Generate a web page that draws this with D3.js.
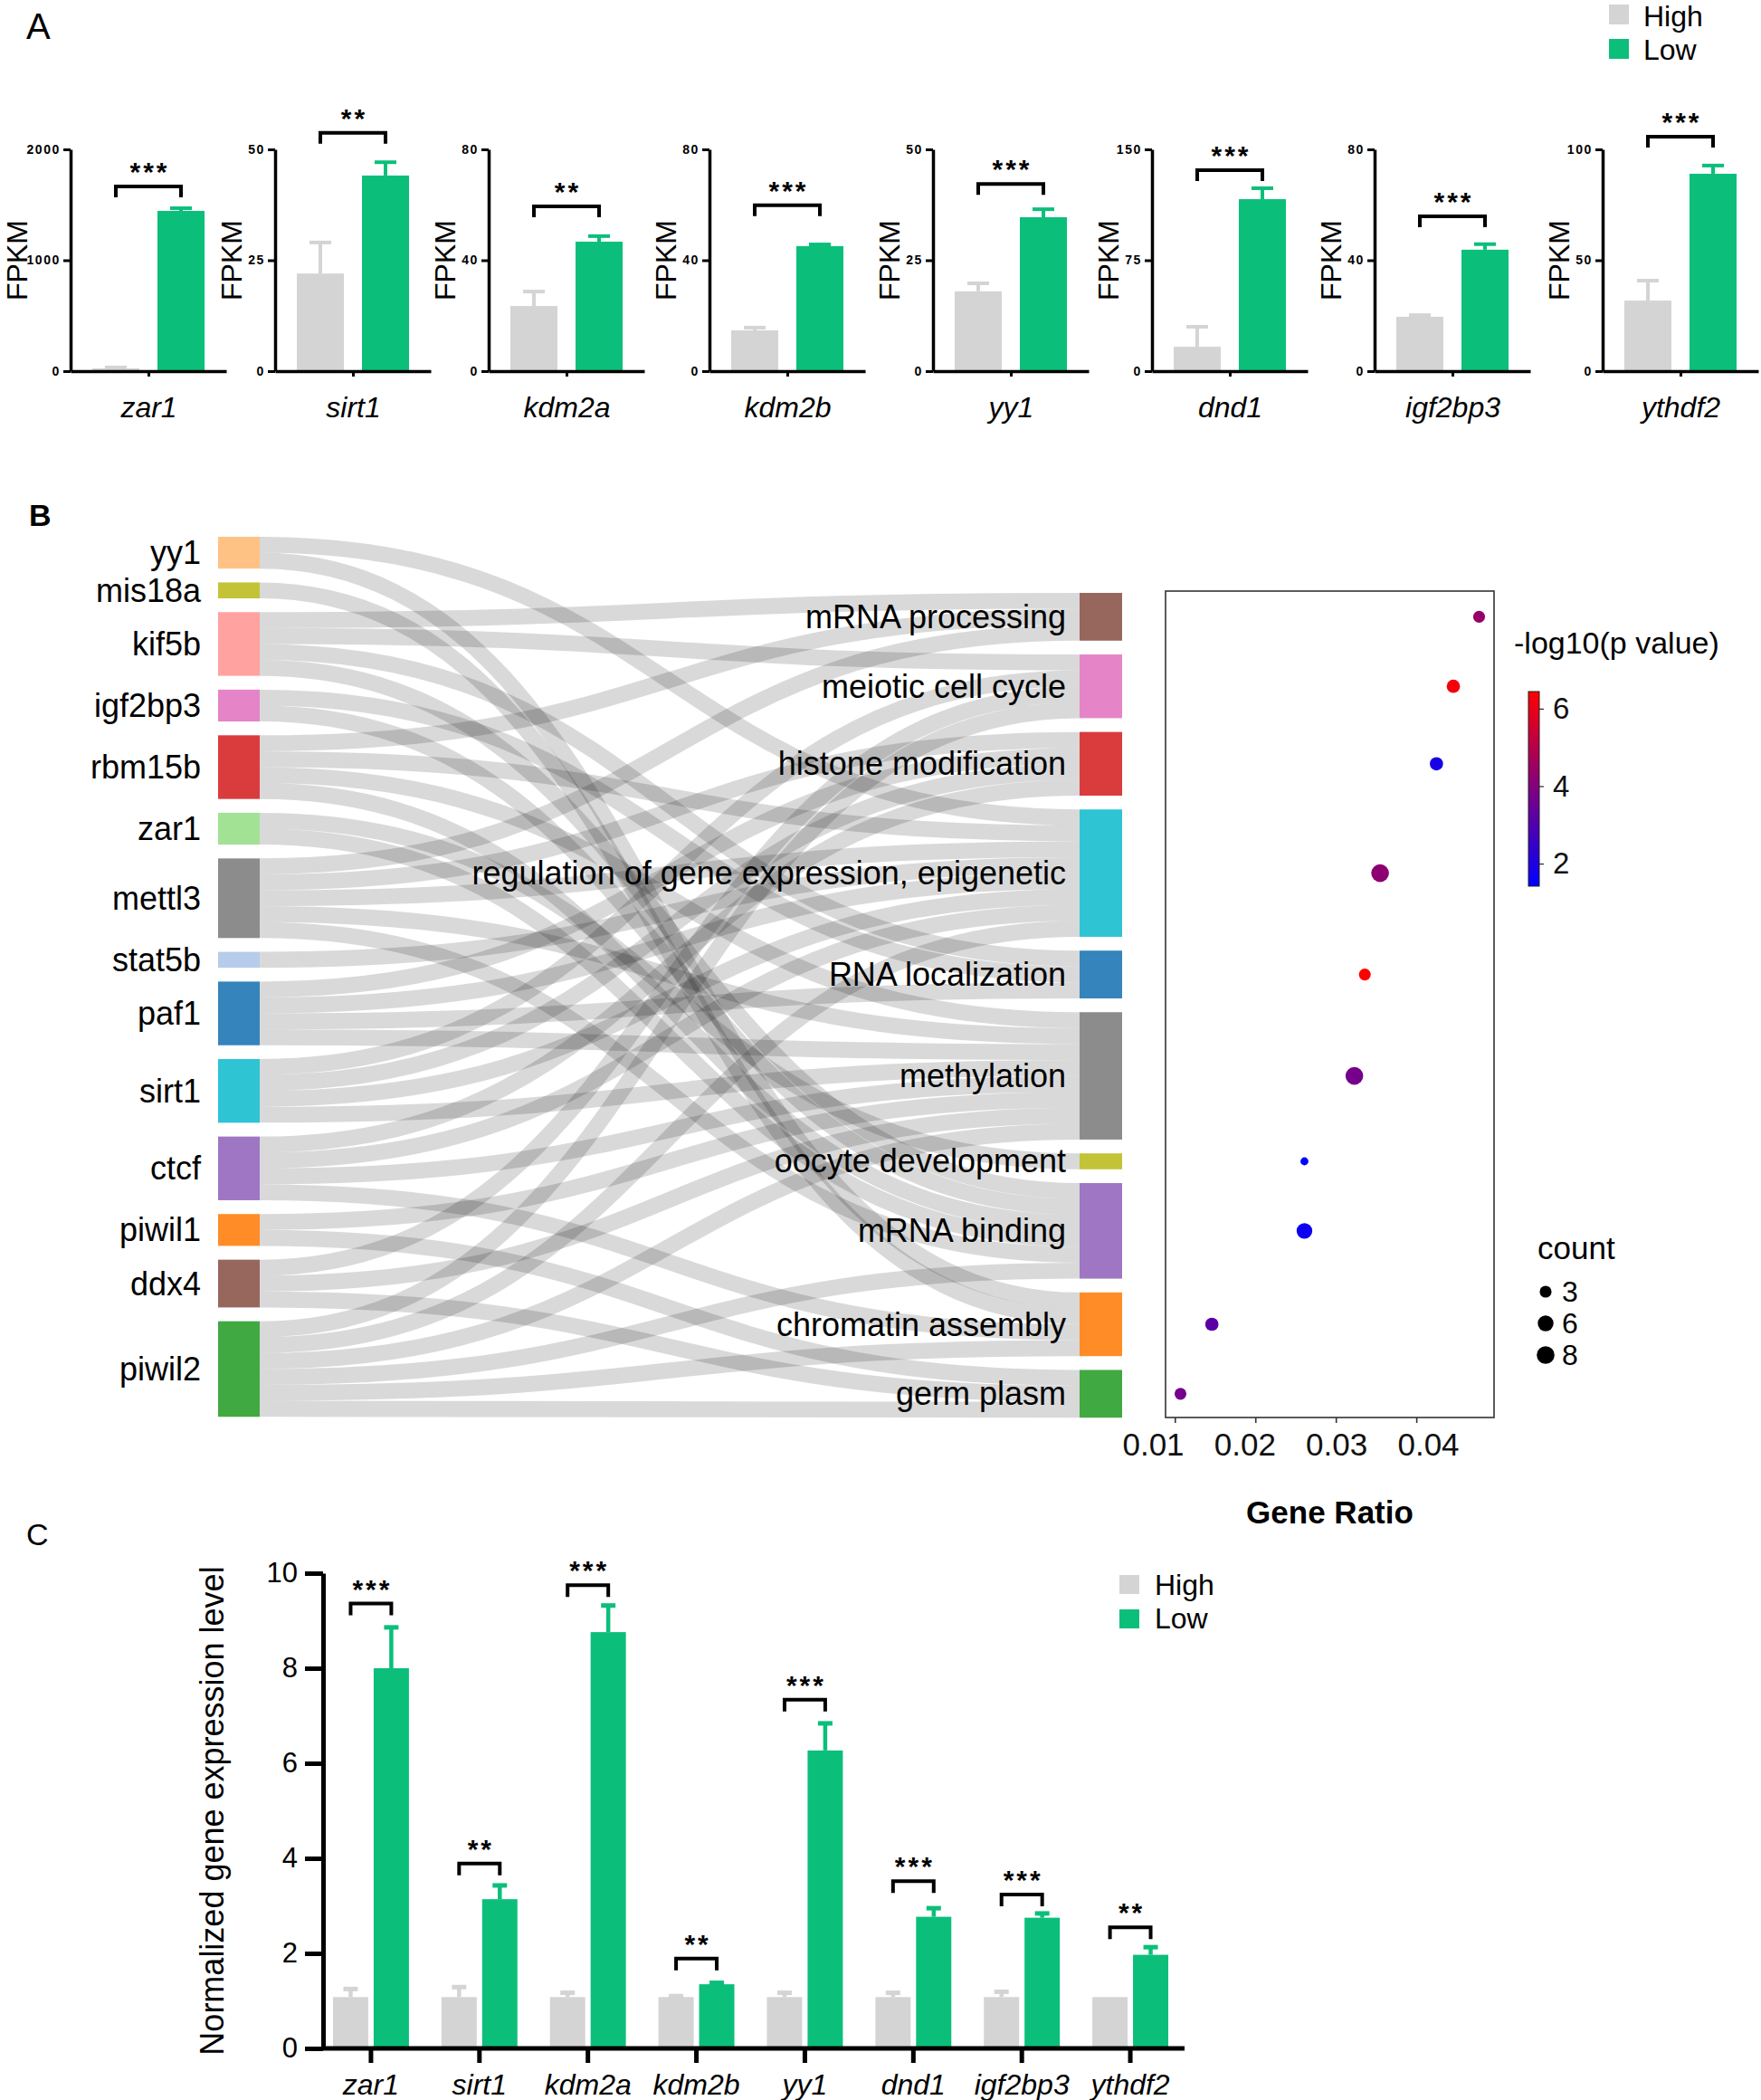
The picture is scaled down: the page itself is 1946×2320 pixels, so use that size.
<!DOCTYPE html>
<html><head><meta charset="utf-8">
<script src="https://cdn.jsdelivr.net/npm/d3@7"></script>
<style>
body{margin:0;background:#fff}
svg{display:block;background:#fff}
text{font-family:"Liberation Sans",Arial,Helvetica,sans-serif}
</style>
</head><body>
<svg id="c" width="1946" height="2320"></svg>
<script>
// ================= DATA =================
// Panel A: FPKM
const genesA = ["zar1","sirt1","kdm2a","kdm2b","yy1","dnd1","igf2bp3","ythdf2"];
const groups = ["High","Low"];
const fpkmHigh    = [25, 22.0, 23.5, 14.7, 18.0, 16.5, 19.6, 31.8];
const fpkmHighErr = [8, 7.0, 5.2, 1.0, 1.8, 13.5, 0.6, 9.0];
const fpkmLow     = [1445, 44.1, 46.7, 45.1, 34.7, 116.3, 43.8, 89.0];
const fpkmLowErr  = [24, 3.0, 2.0, 0.6, 1.8, 7.4, 2.0, 3.7];
const fpkmMax     = [2000, 50, 80, 80, 50, 150, 80, 100];
const sigA        = ["***","**","**","***","***","***","***","***"];
const sigLevelA   = [1665, 53.7, 59.4, 59.8, 42.2, 135.9, 55.8, 105.7];

// Panel B: sankey + GO dot plot
const sourceGenes = ["yy1","mis18a","kif5b","igf2bp3","rbm15b","zar1","mettl3","stat5b","paf1","sirt1","ctcf","piwil1","ddx4","piwil2"];
const geneColors  = ["#ffbb78","#bcbd22","#ff9896","#e377c2","#d62728","#98df8a","#7f7f7f","#aec7e8","#1f77b4","#17becf","#9467bd","#ff7f0e","#8c564b","#2ca02c"];
const goTerms = ["mRNA processing","meiotic cell cycle","histone modification","regulation of gene expression, epigenetic","RNA localization","methylation","oocyte development","mRNA binding","chromatin assembly","germ plasm"];
const termColors  = ["#8c564b","#e377c2","#d62728","#17becf","#1f77b4","#7f7f7f","#bcbd22","#9467bd","#ff7f0e","#2ca02c"];
const geneTerms = [
  ["regulation of gene expression, epigenetic","chromatin assembly"],
  ["chromatin assembly"],
  ["mRNA processing","meiotic cell cycle","RNA localization","mRNA binding"],
  ["RNA localization","mRNA binding"],
  ["mRNA processing","regulation of gene expression, epigenetic","methylation","mRNA binding"],
  ["oocyte development","mRNA binding"],
  ["mRNA processing","histone modification","regulation of gene expression, epigenetic","methylation","mRNA binding"],
  ["regulation of gene expression, epigenetic"],
  ["histone modification","regulation of gene expression, epigenetic","RNA localization","methylation"],
  ["meiotic cell cycle","histone modification","regulation of gene expression, epigenetic","methylation"],
  ["histone modification","regulation of gene expression, epigenetic","methylation","chromatin assembly"],
  ["methylation","germ plasm"],
  ["meiotic cell cycle","methylation","germ plasm"],
  ["meiotic cell cycle","regulation of gene expression, epigenetic","methylation","mRNA binding","chromatin assembly","germ plasm"]
];
const goRatio = [0.0478, 0.0446, 0.0425, 0.0355, 0.0336, 0.0323, 0.0261, 0.0261, 0.0146, 0.0107];
const goCount = [3, 4, 4, 8, 3, 8, 1, 6, 4, 3];
const goLogP  = [4.4, 6.2, 1.9, 4.2, 6.44, 3.7, 1.42, 1.67, 3.2, 3.7];
const colorTicks = [2, 4, 6];
const countLegend = [3, 6, 8];
const ratioTicks = [0.01, 0.02, 0.03, 0.04];

// Panel C: qPCR
const genesC = ["zar1","sirt1","kdm2a","kdm2b","yy1","dnd1","igf2bp3","ythdf2"];
const qHigh    = [1.08, 1.08, 1.08, 1.08, 1.08, 1.08, 1.08, 1.08];
const qHighErr = [0.17, 0.21, 0.09, 0.02, 0.09, 0.09, 0.11, 0.0];
const qLow     = [8.0, 3.14, 8.76, 1.35, 6.27, 2.77, 2.75, 1.97];
const qLowErr  = [0.86, 0.29, 0.56, 0.03, 0.57, 0.18, 0.09, 0.16];
const sigC      = ["***","**","***","**","***","***","***","**"];
const sigLevelC = [9.36, 3.89, 9.75, 1.89, 7.34, 3.52, 3.24, 2.55];
const qTicks = [0, 2, 4, 6, 8, 10];

// ================= STYLE / LAYOUT =================
const GREEN = "#0bbf7a", GRAY = "#d4d4d4";
const NARROW = '"Liberation Sans Narrow","Arial Narrow","DejaVu Sans Condensed",sans-serif';
const SANS = '"Liberation Sans",Arial,sans-serif';
const svg = d3.select("#c");

function stars(g, x, yc, s) {
  g.append("text").attr("x", x).attr("dx", 1.5).attr("y", yc + 0.575 * 30)
    .attr("text-anchor", "middle").attr("font-size", 30).attr("font-weight", "bold")
    .attr("letter-spacing", 3).text(s);
}
function bracket(g, x1, x2, yb, leg) {
  g.append("path").attr("d", `M${x1},${yb + leg}V${yb}H${x2}V${yb + leg}`)
    .attr("fill", "none").attr("stroke", "#000").attr("stroke-width", 4);
}

// ================= PANEL A =================
svg.append("text").attr("x", 29).attr("y", 43).attr("font-size", 40).text("A");
const A_X = [78, 304, 540, 784, 1031, 1273, 1519, 1771];
const A_W = 172, A_TOP = 165, A_ZERO = 410;

genesA.forEach((gene, i) => {
  const g = svg.append("g").attr("transform", `translate(${A_X[i]},0)`);
  const y = d3.scaleLinear().domain([0, fpkmMax[i]]).range([A_ZERO, A_TOP]);
  const xb = d3.scaleBand().domain(groups).range([0, A_W]).paddingInner(0.278).paddingOuter(0.333);
  const rows = [
    {k: "High", v: fpkmHigh[i], e: fpkmHighErr[i], c: GRAY},
    {k: "Low", v: fpkmLow[i], e: fpkmLowErr[i], c: GREEN}
  ];
  rows.forEach(r => {
    const cx = xb(r.k) + xb.bandwidth() / 2;
    if (r.e > 0) {
      g.append("line").attr("x1", cx).attr("x2", cx).attr("y1", y(r.v)).attr("y2", y(r.v + r.e))
        .attr("stroke", r.c).attr("stroke-width", 4);
      g.append("line").attr("x1", cx - 12).attr("x2", cx + 12).attr("y1", y(r.v + r.e)).attr("y2", y(r.v + r.e))
        .attr("stroke", r.c).attr("stroke-width", 4);
    }
    g.append("rect").attr("x", xb(r.k)).attr("width", xb.bandwidth())
      .attr("y", y(r.v)).attr("height", y(0) - y(r.v)).attr("fill", r.c);
  });
  // y axis
  const ya = g.append("g").call(d3.axisLeft(y).tickValues([0, fpkmMax[i] / 2, fpkmMax[i]])
    .tickSize(8).tickSizeOuter(0).tickPadding(3).tickFormat(d3.format("d")));
  ya.select(".domain").attr("stroke-width", 3.5);
  ya.selectAll(".tick line").attr("stroke-width", 3);
  ya.selectAll(".tick text").attr("font-family", NARROW).attr("font-weight", "bold")
    .attr("font-size", 14).attr("letter-spacing", 1.6).attr("fill", "#000");
  // x axis
  const xp = d3.scalePoint().domain([gene]).range([0, A_W]).padding(0.5);
  const xa = g.append("g").attr("transform", `translate(0,${A_ZERO})`)
    .call(d3.axisBottom(xp).tickSize(6).tickSizeOuter(0).tickPadding(22));
  xa.select(".domain").attr("stroke-width", 3.5);
  xa.selectAll(".tick line").attr("stroke-width", 3);
  xa.selectAll(".tick text").attr("font-family", SANS)
    .attr("font-style", "italic").attr("font-size", 32).attr("fill", "#000");
  // FPKM label
  const off = String(fpkmMax[i]).length >= 4 ? 59 : 48;
  g.append("text").attr("transform", `translate(${-off},${(A_TOP + A_ZERO) / 2}) rotate(-90)`)
    .attr("text-anchor", "middle").attr("dominant-baseline", "central").attr("font-size", 32).text("FPKM");
  // significance
  const yb = y(sigLevelA[i]);
  const x1 = xb("High") + xb.bandwidth() / 2, x2 = xb("Low") + xb.bandwidth() / 2;
  bracket(g, x1, x2, yb, 12);
  stars(g, (x1 + x2) / 2, yb - 23, sigA[i]);
});
// legend A
[["High", GRAY], ["Low", GREEN]].forEach(([k, c], j) => {
  svg.append("rect").attr("x", 1778).attr("y", 5 + j * 38).attr("width", 22).attr("height", 22).attr("fill", c);
  svg.append("text").attr("x", 1816).attr("y", 18 + j * 37).attr("dominant-baseline", "central")
    .attr("font-size", 32).text(k);
});

// ================= PANEL B: SANKEY =================
svg.append("text").attr("x", 32).attr("y", 581).attr("font-size", 34).attr("font-weight", "bold").text("B");
const U = 17.59, PAD = 15.25, NODE_W = 46;
const LEFT_X = 241, RIGHT_X = 1193, LEFT_TOP = 593, RIGHT_TOP = 655;
const unit = d3.scaleLinear().domain([0, 1]).range([0, U]);

const links = [];
geneTerms.forEach((terms, gi) => terms.forEach(t => links.push({s: gi, t: goTerms.indexOf(t)})));
const geneCount = sourceGenes.map((_, gi) => links.filter(l => l.s === gi).length);
const termCount = goTerms.map((_, ti) => links.filter(l => l.t === ti).length);

function stack(counts, top) {
  const cum = [0, ...d3.cumsum(counts)];
  return counts.map((c, i) => ({y0: top + unit(cum[i]) + i * PAD, y1: top + unit(cum[i] + c) + i * PAD}));
}
const gNodes = stack(geneCount, LEFT_TOP);
const tNodes = stack(termCount, RIGHT_TOP);

sourceGenes.forEach((_, gi) => {
  links.filter(l => l.s === gi).sort((a, b) => a.t - b.t)
    .forEach((l, k) => l.sy = gNodes[gi].y0 + unit(k + 0.5));
});
goTerms.forEach((_, ti) => {
  links.filter(l => l.t === ti).sort((a, b) => a.s - b.s)
    .forEach((l, k) => l.ty = tNodes[ti].y0 + unit(k + 0.5));
});
const linkGen = d3.linkHorizontal();
const B = svg.append("g");
B.selectAll("path.link").data(links).join("path").attr("class", "link")
  .attr("d", l => linkGen({source: [LEFT_X + NODE_W, l.sy], target: [RIGHT_X, l.ty]}))
  .attr("fill", "none").attr("stroke", "#000").attr("stroke-opacity", 0.15).attr("stroke-width", U);

B.selectAll("rect.gn").data(gNodes).join("rect").attr("class", "gn")
  .attr("x", LEFT_X).attr("width", NODE_W).attr("y", d => d.y0).attr("height", d => d.y1 - d.y0)
  .attr("fill", (d, i) => geneColors[i]).attr("opacity", 0.9);
B.selectAll("rect.tn").data(tNodes).join("rect").attr("class", "tn")
  .attr("x", RIGHT_X).attr("width", NODE_W + 1).attr("y", d => d.y0).attr("height", d => d.y1 - d.y0)
  .attr("fill", (d, i) => termColors[i]).attr("opacity", 0.9);
B.selectAll("text.gl").data(gNodes).join("text").attr("class", "gl")
  .attr("x", LEFT_X - 19).attr("y", d => (d.y0 + d.y1) / 2).attr("text-anchor", "end")
  .attr("dominant-baseline", "central").attr("font-size", 36).text((d, i) => sourceGenes[i]);
B.selectAll("text.tl").data(tNodes).join("text").attr("class", "tl")
  .attr("x", RIGHT_X - 15).attr("y", d => (d.y0 + d.y1) / 2).attr("text-anchor", "end")
  .attr("dominant-baseline", "central").attr("font-size", 36).text((d, i) => goTerms[i]);

// ================= PANEL B: DOT PLOT =================
const BOX = {x0: 1288, x1: 1651, y0: 653, y1: 1566};
const ext = d3.extent(goRatio), padR = (ext[1] - ext[0]) * 0.05;
const xr = d3.scaleLinear().domain([ext[0] - padR, ext[1] + padR]).range([BOX.x0, BOX.x1]);
// tick labels in the figure are set slightly wider apart than the tick marks
const xrLabel = d3.scaleLinear().domain([ratioTicks[0], ratioTicks[3]]).range([1274, 1578]);
const pExt = d3.extent(goLogP);
const interp = d3.interpolateRgb("blue", "red");
const col = v => interp((v - pExt[0]) / (pExt[1] - pExt[0]));
const rS = d3.scaleSqrt().domain([1, 8]).range([4.4, 9.8]);
const D = svg.append("g");
D.append("rect").attr("x", BOX.x0).attr("y", BOX.y0).attr("width", BOX.x1 - BOX.x0).attr("height", BOX.y1 - BOX.y0)
  .attr("fill", "none").attr("stroke", "#333").attr("stroke-width", 1.6);
const xra = D.append("g").attr("transform", `translate(0,${BOX.y1})`)
  .call(d3.axisBottom(xr).tickValues(ratioTicks).tickSize(6).tickPadding(11).tickFormat(d3.format(".2f")));
xra.select(".domain").remove();
xra.selectAll(".tick line").attr("stroke", "#333").attr("stroke-width", 1.6);
xra.selectAll(".tick text").attr("font-family", SANS).attr("font-size", 35).attr("fill", "#111")
  .attr("dx", d => xrLabel(d) - xr(d));
D.append("text").attr("x", (BOX.x0 + BOX.x1) / 2).attr("y", 1670).attr("text-anchor", "middle")
  .attr("dominant-baseline", "central").attr("font-size", 35).attr("font-weight", "bold").text("Gene Ratio");
D.selectAll("circle.dot").data(goTerms).join("circle").attr("class", "dot")
  .attr("cx", (d, i) => xr(goRatio[i])).attr("cy", (d, i) => (tNodes[i].y0 + tNodes[i].y1) / 2)
  .attr("r", (d, i) => rS(goCount[i])).attr("fill", (d, i) => col(goLogP[i]));

// colour bar
const CB = {x: 1689, w: 12, y0: 764, y1: 979};
const grad = svg.append("defs").append("linearGradient").attr("id", "cbar")
  .attr("x1", 0).attr("y1", 1).attr("x2", 0).attr("y2", 0);
d3.range(0, 1.0001, 0.05).forEach(t => grad.append("stop").attr("offset", t).attr("stop-color", interp(t)));
D.append("rect").attr("x", CB.x).attr("y", CB.y0).attr("width", CB.w).attr("height", CB.y1 - CB.y0)
  .attr("fill", "url(#cbar)").attr("stroke", "#222").attr("stroke-width", 1);
const cy = d3.scaleLinear().domain(pExt).range([CB.y1, CB.y0]);
const cya = D.append("g").attr("transform", `translate(${CB.x + CB.w},0)`)
  .call(d3.axisRight(cy).tickValues(colorTicks).tickSize(5).tickPadding(10).tickFormat(d3.format("d")));
cya.select(".domain").remove();
cya.selectAll(".tick text").attr("font-family", SANS).attr("font-size", 33).attr("fill", "#111");
D.append("text").attr("x", 1673).attr("y", 710).attr("dominant-baseline", "central").attr("font-size", 34).text("-log10(p value)");
// count legend
D.append("text").attr("x", 1699).attr("y", 1378).attr("dominant-baseline", "central").attr("font-size", 35).text("count");
countLegend.forEach((c, j) => {
  D.append("circle").attr("cx", 1708).attr("cy", 1427 + j * 35).attr("r", rS(c)).attr("fill", "#000");
  D.append("text").attr("x", 1726).attr("y", 1427 + j * 35).attr("dominant-baseline", "central").attr("font-size", 32).text(c);
});

// ================= PANEL C =================
svg.append("text").attr("x", 29).attr("y", 1707).attr("font-size", 34).text("C");
const C_AX = 357, C_R = 1309, C_TOP = 1738, C_ZERO = 2263;
const yc = d3.scaleLinear().domain([0, 10]).range([C_ZERO, C_TOP]);
const xc = d3.scaleBand().domain(genesC).range([350, C_R]);
const sub = d3.scaleBand().domain(groups).range([0, xc.bandwidth()]).paddingInner(0.133).paddingOuter(0.4);
const Cg = svg.append("g");
genesC.forEach((gene, i) => {
  const rows = [
    {k: "High", v: qHigh[i], e: qHighErr[i], c: GRAY},
    {k: "Low", v: qLow[i], e: qLowErr[i], c: GREEN}
  ];
  rows.forEach(r => {
    const bx = xc(gene) + sub(r.k), cx = bx + sub.bandwidth() / 2;
    if (r.e > 0) {
      Cg.append("line").attr("x1", cx).attr("x2", cx).attr("y1", yc(r.v)).attr("y2", yc(r.v + r.e))
        .attr("stroke", r.c).attr("stroke-width", 4.5);
      Cg.append("line").attr("x1", cx - 8).attr("x2", cx + 8).attr("y1", yc(r.v + r.e)).attr("y2", yc(r.v + r.e))
        .attr("stroke", r.c).attr("stroke-width", 5);
    }
    Cg.append("rect").attr("x", bx).attr("width", sub.bandwidth()).attr("y", yc(r.v))
      .attr("height", yc(0) - yc(r.v)).attr("fill", r.c);
  });
  const x1 = xc(gene) + sub("High") + sub.bandwidth() / 2;
  const x2 = xc(gene) + sub("Low") + sub.bandwidth() / 2;
  const yb = yc(sigLevelC[i]);
  bracket(Cg, x1, x2, yb, 13);
  stars(Cg, (x1 + x2) / 2, yb - 23, sigC[i]);
});
const yca = Cg.append("g").attr("transform", `translate(${C_AX},0)`)
  .call(d3.axisLeft(yc).tickValues(qTicks).tickSize(20).tickSizeOuter(0).tickPadding(8));
yca.select(".domain").attr("stroke-width", 5);
yca.selectAll(".tick line").attr("stroke-width", 5);
yca.selectAll(".tick text").attr("font-family", SANS).attr("font-size", 31).attr("fill", "#000");
const xca = Cg.append("g").attr("transform", `translate(0,${C_ZERO})`)
  .call(d3.axisBottom(xc).tickSize(16).tickSizeOuter(0).tickPadding(12));
xca.select(".domain").remove();
Cg.append("line").attr("x1", C_AX).attr("x2", C_R).attr("y1", C_ZERO).attr("y2", C_ZERO)
  .attr("stroke", "#000").attr("stroke-width", 5);
xca.selectAll(".tick line").attr("stroke-width", 5);
xca.selectAll(".tick text").attr("font-family", SANS)
  .attr("font-style", "italic").attr("font-size", 32).attr("fill", "#000");
Cg.append("text").attr("transform", `translate(234,${(C_TOP + C_ZERO) / 2}) rotate(-90)`)
  .attr("text-anchor", "middle").attr("dominant-baseline", "central").attr("font-size", 36)
  .text("Normalized gene expression level");
[["High", GRAY], ["Low", GREEN]].forEach(([k, c], j) => {
  Cg.append("rect").attr("x", 1237).attr("y", 1740 + j * 38).attr("width", 22).attr("height", 21).attr("fill", c);
  Cg.append("text").attr("x", 1276).attr("y", 1751 + j * 37).attr("dominant-baseline", "central")
    .attr("font-size", 32).text(k);
});
</script>
</body></html>
